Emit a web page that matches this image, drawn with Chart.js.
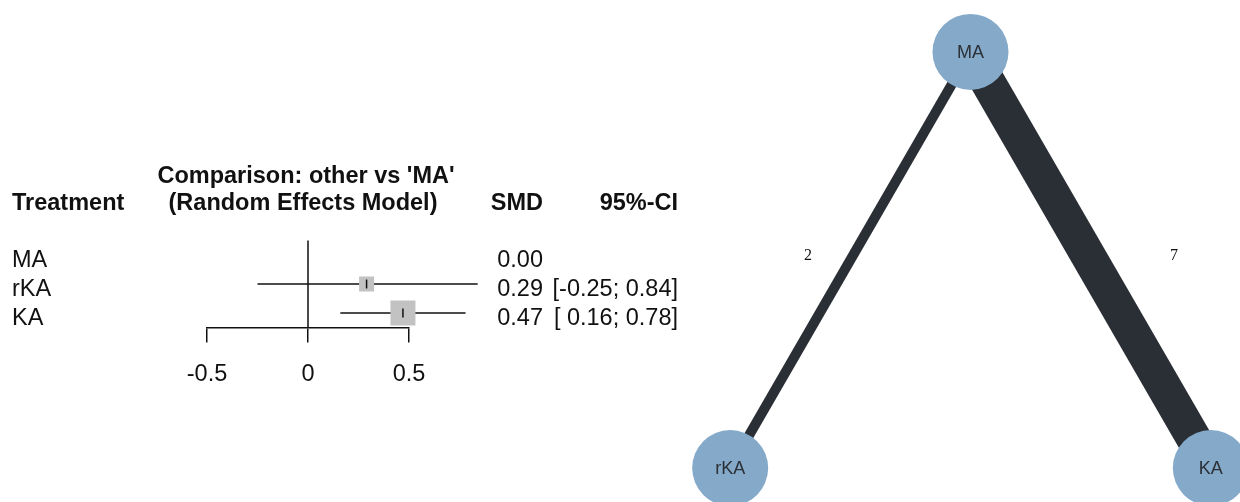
<!DOCTYPE html>
<html>
<head>
<meta charset="utf-8">
<script src="https://cdn.jsdelivr.net/npm/chart.js@4.4.1/dist/chart.umd.min.js"></script>
<style>
    html, body { margin: 0; padding: 0; background: #fff; }
    #wrap { position: relative; width: 1240px; height: 502px; overflow: hidden; }
    #forest { position: absolute; left: 0; top: 0; }
    #network { position: absolute; left: 680px; top: 0; }
</style>
</head>
<body>
<div id="wrap">
    <canvas id="forest" width="700" height="502"></canvas>
    <canvas id="network" width="560" height="502"></canvas>
</div>
<script>
// forest plot data (comparison: other vs 'MA', random effects model)
const treatments = ["MA", "rKA", "KA"];
const smd = [0.00, 0.29, 0.47];
const ciLower = [null, -0.25, 0.16];
const ciUpper = [null, 0.84, 0.78];
const xTicks = [-0.5, 0, 0.5];

// network graph data
const nodes = ["MA", "rKA", "KA"];
const nodeX = [0, -0.866, 0.866];
const nodeY = [1, -0.5, -0.5];
const edgeFrom = ["MA", "MA"];
const edgeTo = ["rKA", "KA"];
const edgeStudies = [2, 7];

const FONT = "'Liberation Sans', Arial, sans-serif";
const boxSide = [0, 15, 25]; // square size per row (weight)

function fmt(v) {
    return v.toFixed(2);
}

function ciText(i) {
    if (ciLower[i] === null) return "";
    const lo = ciLower[i] < 0 ? ciLower[i].toFixed(2) : " " + ciLower[i].toFixed(2);
    return "[" + lo + "; " + ciUpper[i].toFixed(2) + "]";
}

// text columns of the forest plot
const forestText = {
    id: "forestText",
    afterDraw(chart) {
        const ctx = chart.ctx;
        const y = chart.scales.y;
        ctx.save();
        ctx.fillStyle = "#111";
        ctx.textBaseline = "alphabetic";

        ctx.font = "bold 23.5px " + FONT;
        ctx.textAlign = "left";
        ctx.fillText("Treatment", 12, 210);
        ctx.textAlign = "center";
        ctx.fillText("Comparison: other vs 'MA'", 306, 183);
        ctx.fillText("(Random Effects Model)", 303, 210);
        ctx.textAlign = "right";
        ctx.fillText("SMD", 543, 210);
        ctx.fillText("95%-CI", 678, 210);

        ctx.font = "23.5px " + FONT;
        treatments.forEach((t, i) => {
            const py = y.getPixelForValue(i + 1) + 12;
            ctx.textAlign = "left";
            ctx.fillText(t, 12, py);
            ctx.textAlign = "right";
            ctx.fillText(fmt(smd[i]), 543, py);
            ctx.fillText(ciText(i), 678, py);
        });
        ctx.restore();
    }
};

const forestDatasets = [
    {
        // line of no effect
        data: [{ x: 0, y: 0.5 }, { x: 0, y: 3.5 }],
        showLine: true,
        borderColor: "#111",
        borderWidth: 1.5,
        pointRadius: 0,
        clip: false,
        order: 4
    }
];

treatments.forEach((t, i) => {
    if (ciLower[i] === null) return;
    forestDatasets.push({
        label: t,
        data: [{ x: ciLower[i], y: i + 1 }, { x: ciUpper[i], y: i + 1 }],
        showLine: true,
        borderColor: "#111",
        borderWidth: 1.5,
        pointRadius: 0,
        clip: false,
        order: 3
    });
});

const estRows = treatments.map((t, i) => i).filter(i => ciLower[i] !== null);

forestDatasets.push({
    data: estRows.map(i => ({ x: smd[i], y: i + 1 })),
    pointStyle: "rect",
    pointRadius: estRows.map(i => boxSide[i] / (2 * Math.SQRT1_2)),
    backgroundColor: "#c2c2c2",
    borderWidth: 0,
    clip: false,
    order: 2
});

forestDatasets.push({
    data: estRows.map(i => ({ x: smd[i], y: i + 1 })),
    pointStyle: "line",
    rotation: 90,
    pointRadius: 4.5,
    borderColor: "#111",
    borderWidth: 1.5,
    clip: false,
    order: 1
});

new Chart(document.getElementById("forest").getContext("2d"), {
    type: "scatter",
    data: { datasets: forestDatasets },
    options: {
        responsive: false,
        animation: false,
        events: [],
        layout: { autoPadding: false, padding: { left: 207, right: 291, top: 240.5, bottom: 114.5 } },
        plugins: { legend: { display: false }, tooltip: { enabled: false } },
        scales: {
            x: {
                type: "linear",
                position: "bottom",
                min: -0.5,
                max: 0.5,
                afterBuildTicks: (s) => { s.ticks = xTicks.map(v => ({ value: v })); },
                afterFit: (s) => { s.height = 60; },
                grid: {
                    drawOnChartArea: false,
                    drawTicks: true,
                    tickLength: 15,
                    color: "#111",
                    lineWidth: 1.5
                },
                border: { display: true, color: "#111", width: 1.5 },
                ticks: {
                    color: "#111",
                    padding: 18,
                    maxRotation: 0,
                    font: { family: FONT, size: 23.5 },
                    callback: (v) => String(v)
                }
            },
            y: {
                type: "linear",
                min: 0.5,
                max: 3.5,
                reverse: true,
                display: false
            }
        }
    },
    plugins: [forestText]
});

// network graph labels
const networkText = {
    id: "networkText",
    afterDatasetsDraw(chart) {
        const ctx = chart.ctx;
        const sx = chart.scales.x;
        const sy = chart.scales.y;
        ctx.save();
        ctx.textAlign = "center";
        ctx.textBaseline = "middle";

        ctx.font = "16px 'Liberation Serif', 'Times New Roman', serif";
        ctx.fillStyle = "#111";
        edgeFrom.forEach((f, k) => {
            const a = nodes.indexOf(f);
            const b = nodes.indexOf(edgeTo[k]);
            const mx = sx.getPixelForValue((nodeX[a] + nodeX[b]) / 2);
            const my = sy.getPixelForValue((nodeY[a] + nodeY[b]) / 2);
            const side = nodeX[b] < nodeX[a] ? -1 : 1;
            const off = 26 + 1.64 * edgeStudies[k] * 5;
            ctx.fillText(String(edgeStudies[k]), mx + side * off, my - 4);
        });

        ctx.font = "18px " + FONT;
        ctx.fillStyle = "#2b2f36";
        nodes.forEach((n, i) => {
            ctx.fillText(n, sx.getPixelForValue(nodeX[i]), sy.getPixelForValue(nodeY[i]) + 1);
        });
        ctx.restore();
    }
};

const networkDatasets = [
    {
        data: nodes.map((n, i) => ({ x: nodeX[i], y: nodeY[i] })),
        pointStyle: "circle",
        pointRadius: 38,
        backgroundColor: "#84a9c9",
        borderWidth: 0,
        clip: false,
        order: 0
    }
];

edgeFrom.forEach((f, k) => {
    const a = nodes.indexOf(f);
    const b = nodes.indexOf(edgeTo[k]);
    networkDatasets.push({
        data: [{ x: nodeX[a], y: nodeY[a] }, { x: nodeX[b], y: nodeY[b] }],
        showLine: true,
        borderColor: "#2a2e35",
        borderWidth: edgeStudies[k] * 5,
        pointRadius: 0,
        clip: false,
        order: 1
    });
});

new Chart(document.getElementById("network").getContext("2d"), {
    type: "scatter",
    data: { datasets: networkDatasets },
    options: {
        responsive: false,
        animation: false,
        events: [],
        layout: { autoPadding: false, padding: 0 },
        plugins: { legend: { display: false }, tooltip: { enabled: false } },
        scales: {
            x: { type: "linear", min: -1.0468, max: 0.9712, display: false },
            y: { type: "linear", min: -0.6225, max: 1.1874, display: false }
        }
    },
    plugins: [networkText]
});
</script>
</body>
</html>
